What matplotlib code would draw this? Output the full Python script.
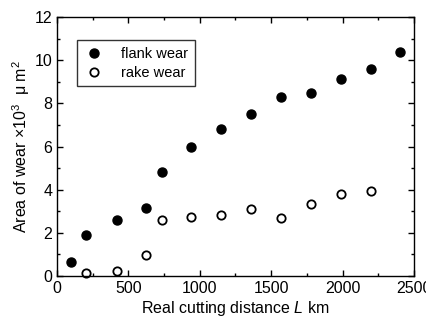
import matplotlib
matplotlib.use("Agg")
import matplotlib.pyplot as plt
from matplotlib.ticker import MultipleLocator

plt.rcParams['font.family'] = ['Liberation Sans', 'DejaVu Sans']
plt.rcParams['mathtext.fontset'] = 'custom'
plt.rcParams['mathtext.rm'] = 'Liberation Sans'
plt.rcParams['mathtext.it'] = 'Liberation Sans:italic'

flank_x = [100, 205, 420, 625, 735, 940, 1150, 1360, 1570, 1780, 1990, 2200, 2400]
flank_y = [0.65, 1.9, 2.6, 3.15, 4.8, 6.0, 6.8, 7.5, 8.3, 8.5, 9.15, 9.6, 10.4]
rake_x = [205, 420, 625, 735, 940, 1150, 1360, 1570, 1780, 1990, 2200]
rake_y = [0.12, 0.22, 0.97, 2.6, 2.75, 2.82, 3.1, 2.7, 3.35, 3.8, 3.95]

fig = plt.figure(figsize=(4.27, 3.23), dpi=100)
ax = fig.add_axes([0.1335, 0.1455, 0.836, 0.8015])
ax.plot(flank_x, flank_y, 'o', color='black', markersize=6.5, label='flank wear', clip_on=False)
ax.plot(rake_x, rake_y, 'o', markerfacecolor='white', markeredgecolor='black', markeredgewidth=1.3,
        markersize=6, label='rake wear', clip_on=False)
ax.set_xlim(0, 2500)
ax.set_ylim(0, 12)
ax.xaxis.set_major_locator(MultipleLocator(500))
ax.xaxis.set_minor_locator(MultipleLocator(250))
ax.yaxis.set_major_locator(MultipleLocator(2))
ax.yaxis.set_minor_locator(MultipleLocator(1))
ax.tick_params(which='both', direction='in', top=True, right=True, labelsize=11.5, width=1)
ax.tick_params(which='major', length=4)
ax.tick_params(which='minor', length=2.5)
for s in ax.spines.values():
    s.set_linewidth(1)
ax.set_xlabel('Real cutting distance $\\mathit{L}$ km', fontsize=11.5, labelpad=2)
ax.set_ylabel('Area of wear \u00d710$^3$  \u03bc m$^2$', fontsize=11.5, labelpad=2)
leg = ax.legend(loc='upper left', bbox_to_anchor=(0.056, 0.911), borderaxespad=0, frameon=True,
                fancybox=False, edgecolor='black', fontsize=10.5, handletextpad=1.2,
                borderpad=0.45, labelspacing=0.35, handlelength=1.4)
leg.get_frame().set_linewidth(1)
fig.savefig('out.png', dpi=100)
